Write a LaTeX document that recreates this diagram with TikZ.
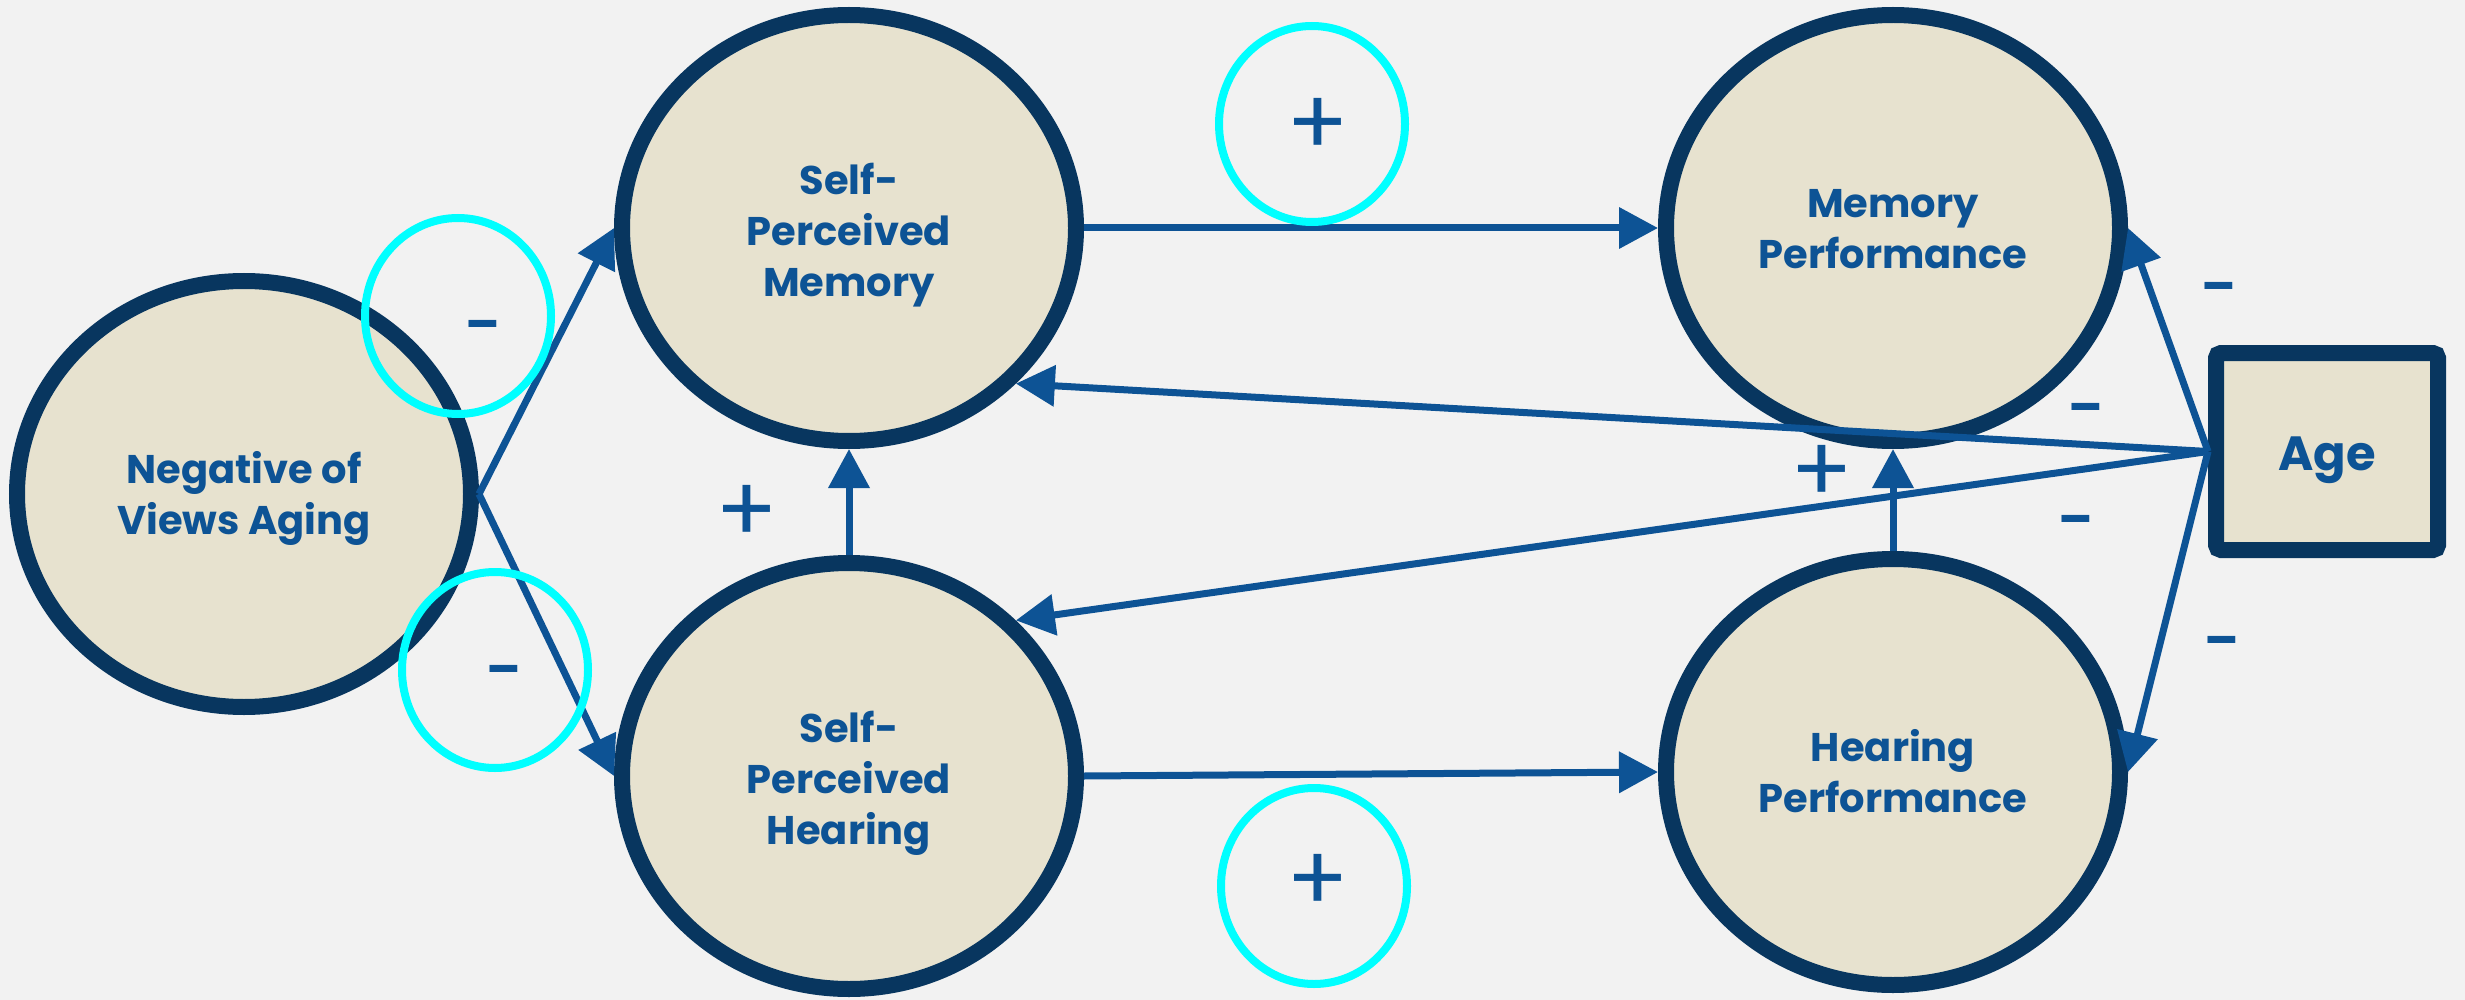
\documentclass[tikz,border=0pt]{standalone}
\usepackage{fontspec}
\setmainfont{Poppins}
\newfontfamily\signfont{Poppins}
\usetikzlibrary{shapes.geometric,arrows.meta}
\definecolor{bgc}{HTML}{F2F2F2}
\definecolor{beige}{HTML}{E7E2CF}
\definecolor{navy}{HTML}{08365F}
\definecolor{txtblue}{HTML}{0D5395}
\definecolor{cyanc}{HTML}{00FFFF}
\newcommand\firstthree{\rule{0pt}{51pt}}
\newcommand\firsttwo{\rule{0pt}{46pt}}
\begin{document}
\begin{tikzpicture}[x=1pt,y=-1pt,
  var/.style={ellipse, draw=navy, line width=16pt, fill=beige,
    minimum width=454pt, minimum height=426pt, inner sep=0pt,
    align=center, text=txtblue, font=\fontsize{40}{51}\selectfont\bfseries},
  agebox/.style={rectangle, rounded corners=5pt, draw=navy, line width=16pt,
    fill=beige, minimum width=222pt, minimum height=197pt, inner sep=0pt,
    text height=38pt, text depth=0pt,
    text=txtblue, font=\fontsize{48}{56}\selectfont\bfseries},
  ring/.style={ellipse, draw=cyanc, line width=8pt,
    minimum width=186pt, minimum height=196pt, inner sep=0pt},
  plussign/.style={text=txtblue, inner sep=0pt, font=\signfont\fontsize{92}{92}\selectfont},
  minussign/.style={text=txtblue, inner sep=0pt, font=\signfont\fontsize{50}{50}\selectfont\bfseries},
  link/.style={draw=txtblue, line width=7pt, -{Triangle[length=39pt,width=40pt]}}
]
\useasboundingbox (0,0) rectangle (2465,1000);
\fill[bgc] (0,0) rectangle (2465,1000);

\node[var] (NEG) at (244,494) {\firsttwo Negative of\\\strut Views Aging};
\node[var] (SPM) at (849,228) {\firstthree Self-\\\strut Perceived\\\strut Memory};
\node[var] (SPH) at (849,776) {\firstthree Self-\\\strut Perceived\\\strut Hearing};
\node[var] (MP) at (1893,228) {\firsttwo Memory\\\strut Performance};
\node[var] (HP) at (1893,772) {\firsttwo Hearing\\\strut Performance};
\node[agebox] (AGE) at (2327,451.5) {Age};

\draw[link] (NEG.east) -- (SPM.west);
\draw[link] (NEG.east) -- (SPH.west);
\draw[link] (SPM.east) -- (MP.west);
\draw[link] (SPH.east) -- (HP.west);
\draw[link] (SPH.north) -- (SPM.south);
\draw[link] (HP.north) -- (MP.south);
\draw[link] (AGE.west) -- (SPM.-43);
\draw[link] (AGE.west) -- (SPH.43);
\draw[link] (AGE.west) -- (MP.east);
\draw[link] (AGE.west) -- (HP.east);

\node[ring] (R1) at (458,316) {};
\node[ring] (R2) at (495,670) {};
\node[ring] (R3) at (1312,124) {};
\node[ring] (R4) at (1314,886) {};

\node[minussign] (m1) at (483,331) {–};
\node[minussign] (m2) at (504,676) {–};
\node[minussign] (m3) at (2219,293) {–};
\node[minussign] (m4) at (2086,414) {–};
\node[minussign] (m5) at (2076,526) {–};
\node[minussign] (m6) at (2222,647) {–};

\node[plussign] (p1) at (1318,127) {+};
\node[plussign] (p2) at (1318,883) {+};
\node[plussign] (p3) at (747,514) {+};
\node[plussign] (p4) at (1822,474) {+};
\end{tikzpicture}
\end{document}
